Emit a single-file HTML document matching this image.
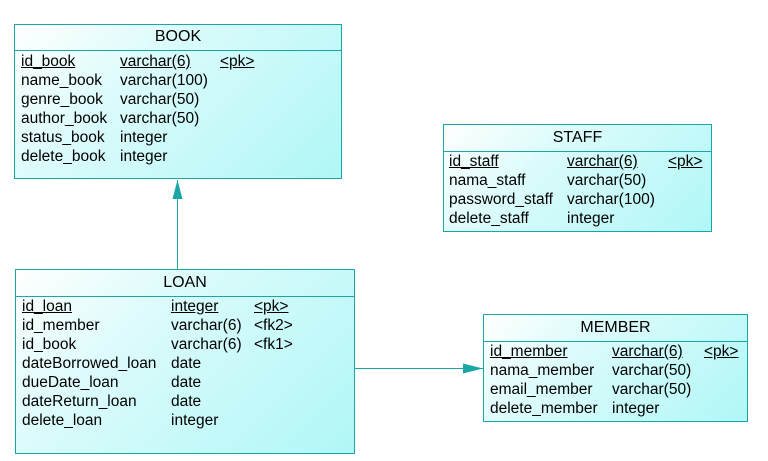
<!DOCTYPE html>
<html><head><meta charset="utf-8"><style>
body{margin:0;width:768px;height:461px;background:#fff;position:relative;overflow:hidden;font-family:"Liberation Sans",Arial,sans-serif;font-size:15.5px;color:#000}
.t{position:absolute;border:1px solid #19a6a6;background:linear-gradient(135deg,#ffffff 0%,#dcfbfb 35%,#b0f7f7 100%);box-sizing:border-box}
.h{position:absolute;left:0;right:0;top:0;border-bottom:1px solid #19a6a6;text-align:center;font-size:16px}
.r{position:absolute;white-space:nowrap;line-height:19px;height:19px}
.u{text-decoration:underline}
</style></head><body>
<svg width="768" height="461" style="position:absolute;left:0;top:0">
<line x1="177.5" y1="180" x2="177.5" y2="269" stroke="#19a6a6" stroke-width="1"/>
<polygon points="177.5,180 172.5,199 182.5,199" fill="#19a6a6"/>
<line x1="354" y1="368.5" x2="483" y2="368.5" stroke="#19a6a6" stroke-width="1"/>
<polygon points="483,368.5 463,363.5 463,373.5" fill="#19a6a6"/>
</svg>

<div class="t" style="left:14px;top:24px;width:328px;height:155px">
<div class="h" style="height:25px;line-height:24px">BOOK</div>
</div>
<div class="r u" style="left:21px;top:52px">id_book</div><div class="r u" style="left:120px;top:52px">varchar(6)</div><div class="r u" style="left:220px;top:52px">&lt;pk&gt;</div>
<div class="r" style="left:21px;top:71px">name_book</div><div class="r" style="left:120px;top:71px">varchar(100)</div>
<div class="r" style="left:21px;top:90px">genre_book</div><div class="r" style="left:120px;top:90px">varchar(50)</div>
<div class="r" style="left:21px;top:109px">author_book</div><div class="r" style="left:120px;top:109px">varchar(50)</div>
<div class="r" style="left:21px;top:128px">status_book</div><div class="r" style="left:120px;top:128px">integer</div>
<div class="r" style="left:21px;top:147px">delete_book</div><div class="r" style="left:120px;top:147px">integer</div>

<div class="t" style="left:443px;top:124px;width:269px;height:108px">
<div class="h" style="height:26px;line-height:25px">STAFF</div>
</div>
<div class="r u" style="left:449px;top:152px">id_staff</div><div class="r u" style="left:567px;top:152px">varchar(6)</div><div class="r u" style="left:668px;top:152px">&lt;pk&gt;</div>
<div class="r" style="left:449px;top:171px">nama_staff</div><div class="r" style="left:567px;top:171px">varchar(50)</div>
<div class="r" style="left:449px;top:190px">password_staff</div><div class="r" style="left:567px;top:190px">varchar(100)</div>
<div class="r" style="left:449px;top:209px">delete_staff</div><div class="r" style="left:567px;top:209px">integer</div>

<div class="t" style="left:15px;top:269px;width:340px;height:185px">
<div class="h" style="height:26px;line-height:25px">LOAN</div>
</div>
<div class="r u" style="left:22px;top:297px">id_loan</div><div class="r u" style="left:171px;top:297px">integer</div><div class="r u" style="left:254px;top:297px">&lt;pk&gt;</div>
<div class="r" style="left:22px;top:316px">id_member</div><div class="r" style="left:171px;top:316px">varchar(6)</div><div class="r" style="left:254px;top:316px">&lt;fk2&gt;</div>
<div class="r" style="left:22px;top:335px">id_book</div><div class="r" style="left:171px;top:335px">varchar(6)</div><div class="r" style="left:254px;top:335px">&lt;fk1&gt;</div>
<div class="r" style="left:22px;top:354px">dateBorrowed_loan</div><div class="r" style="left:171px;top:354px">date</div>
<div class="r" style="left:22px;top:373px">dueDate_loan</div><div class="r" style="left:171px;top:373px">date</div>
<div class="r" style="left:22px;top:392px">dateReturn_loan</div><div class="r" style="left:171px;top:392px">date</div>
<div class="r" style="left:22px;top:411px">delete_loan</div><div class="r" style="left:171px;top:411px">integer</div>

<div class="t" style="left:483px;top:314px;width:265px;height:108px">
<div class="h" style="height:26px;line-height:25px">MEMBER</div>
</div>
<div class="r u" style="left:490px;top:342px">id_member</div><div class="r u" style="left:612px;top:342px">varchar(6)</div><div class="r u" style="left:704px;top:342px">&lt;pk&gt;</div>
<div class="r" style="left:490px;top:361px">nama_member</div><div class="r" style="left:612px;top:361px">varchar(50)</div>
<div class="r" style="left:490px;top:380px">email_member</div><div class="r" style="left:612px;top:380px">varchar(50)</div>
<div class="r" style="left:490px;top:399px">delete_member</div><div class="r" style="left:612px;top:399px">integer</div>
</body></html>
